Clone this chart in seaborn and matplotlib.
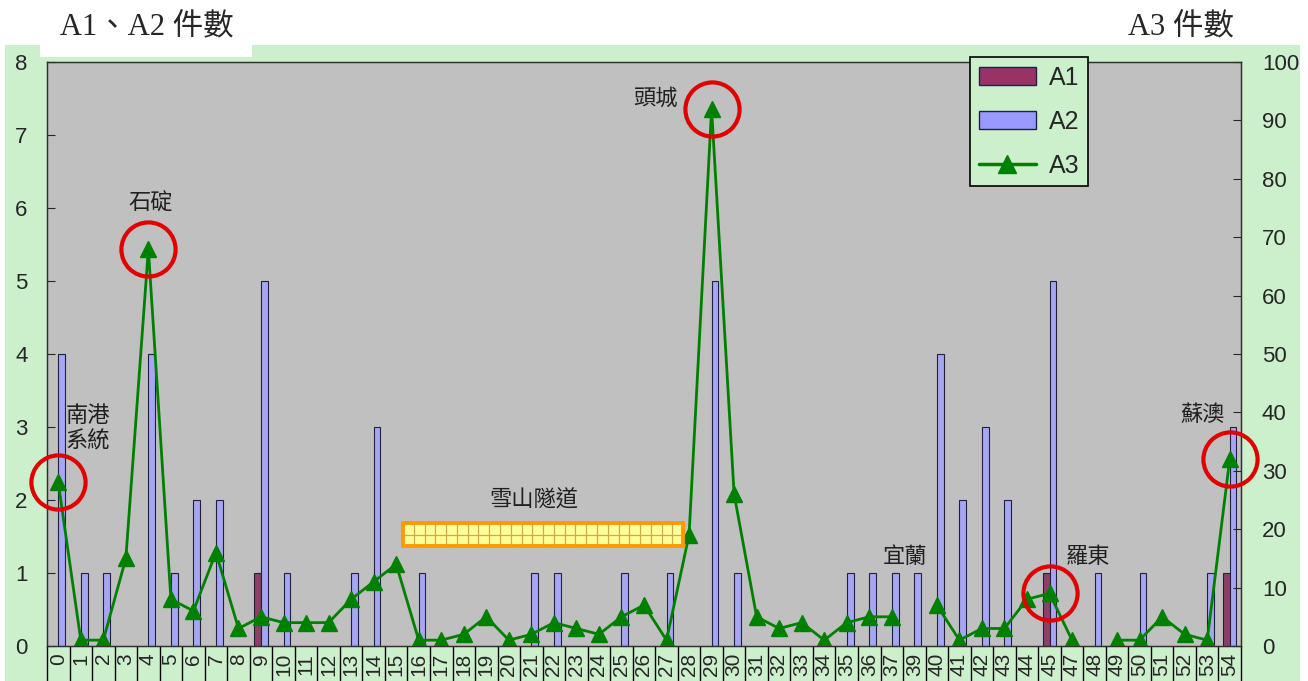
"""Accident counts along the freeway: A1/A2 bars and A3 line."""

import matplotlib.pyplot as plt
import numpy as np
import pandas as pd
import seaborn as sns
from matplotlib.lines import Line2D
from matplotlib.patches import Patch, Rectangle

# kilometre markers (38 and 46 are not listed on the chart)
km_labels = [
    "0", "1", "2", "3", "4", "5", "6", "7", "8", "9",
    "10", "11", "12", "13", "14", "15", "16", "17", "18", "19",
    "20", "21", "22", "23", "24", "25", "26", "27", "28", "29",
    "30", "31", "32", "33", "34", "35", "36", "37", "39", "40",
    "41", "42", "43", "44", "45", "47", "48", "49", "50", "51",
    "52", "53", "54",
]
a1_counts = [
    0, 0, 0, 0, 0, 0, 0, 0, 0, 1,
    0, 0, 0, 0, 0, 0, 0, 0, 0, 0,
    0, 0, 0, 0, 0, 0, 0, 0, 0, 0,
    0, 0, 0, 0, 0, 0, 0, 0, 0, 0,
    0, 0, 0, 0, 1, 0, 0, 0, 0, 0,
    0, 0, 1,
]
a2_counts = [
    4, 1, 1, 0, 4, 1, 2, 2, 0, 5,
    1, 0, 0, 1, 3, 0, 1, 0, 0, 0,
    0, 1, 1, 0, 0, 1, 0, 1, 0, 5,
    1, 0, 0, 0, 0, 1, 1, 1, 1, 4,
    2, 3, 2, 0, 5, 0, 1, 0, 1, 0,
    0, 1, 3,
]
a3_counts = [
    28, 1, 1, 15, 68, 8, 6, 16, 3, 5,
    4, 4, 4, 8, 11, 14, 1, 1, 2, 5,
    1, 2, 4, 3, 2, 5, 7, 1, 19, 92,
    26, 5, 3, 4, 1, 4, 5, 5, np.nan, 7,
    1, 3, 3, 8, 9, 1, np.nan, 1, 1, 5,
    2, 1, 32,
]
# circled places: (category index, name)
highlights = [(0, "南港\n系統"), (4, "石碇"), (29, "頭城"), (44, "羅東"), (52, "蘇澳")]

BG_GREEN = "#CCEFCC"
PLOT_GRAY = "#C0C0C0"
A1_COLOR = "#993366"
A2_COLOR = "#9999FF"
BAR_EDGE = "#202040"
LINE_GREEN = "#008000"

sns.set_style("ticks")
plt.rcParams["font.family"] = ["Liberation Sans Narrow", "Liberation Sans", "DejaVu Sans"]
CJK = ["Noto Sans CJK TC", "DejaVu Sans"]
TITLE_FONT = ["Liberation Serif", "Noto Sans CJK TC"]

W, H = 1308, 681
fig = plt.figure(figsize=(W / 100, H / 100), dpi=100)
fig.add_artist(Rectangle((0.004, 0), 0.99, 1 - 45 / H, transform=fig.transFigure,
                         facecolor=BG_GREEN, edgecolor="none", zorder=-2))
fig.add_artist(Rectangle((40 / W, 1 - 57 / H), 212 / W, 57 / H, transform=fig.transFigure,
                         facecolor="white", edgecolor="none", zorder=-1))

ax = fig.add_axes([47 / W, 35 / H, 1194 / W, 584 / H])
ax.set_facecolor(PLOT_GRAY)

n = len(km_labels)
positions = np.arange(n)
bars = pd.DataFrame({
    "pos": np.tile(positions, 2),
    "count": a1_counts + a2_counts,
    "type": ["A1"] * n + ["A2"] * n,
})
bars = bars[bars["count"] > 0]

sns.barplot(data=bars, x="pos", y="count", hue="type", hue_order=["A1", "A2"],
            palette={"A1": A1_COLOR, "A2": A2_COLOR}, native_scale=True, dodge=True,
            width=0.6, errorbar=None, edgecolor=BAR_EDGE, linewidth=0.8,
            legend=False, ax=ax)

ax.set_xlim(-0.5, n - 0.5)
ax.set_ylim(0, 8)
ax.set_yticks(range(0, 9))
ax.set_xticks(positions, km_labels)
ax.set_xticks(np.arange(-0.5, n), minor=True)
ax.set_xlabel("")
ax.set_ylabel("")
ax.tick_params(axis="y", direction="in", length=6, labelsize=16, pad=14)
ax.tick_params(axis="x", which="major", length=0, labelsize=15, labelrotation=90, pad=5)
ax.tick_params(axis="x", which="minor", direction="out", length=30, width=1, color="black")
for spine in ax.spines.values():
    spine.set_color("#303030")
    spine.set_linewidth(1)

ax2 = ax.twinx()
line = pd.DataFrame({"pos": positions, "A3": a3_counts})
line["segment"] = np.cumsum(line["A3"].isna())
line = line.dropna()
sns.lineplot(data=line, x="pos", y="A3", units="segment", estimator=None, sort=False,
             color=LINE_GREEN, linewidth=2, marker="^", markersize=12,
             markeredgecolor=LINE_GREEN, markeredgewidth=1, legend=False, ax=ax2)
ax2.set_ylim(0, 100)
ax2.set_yticks(range(0, 101, 10))
ax2.set_ylabel("")
ax2.tick_params(axis="y", direction="in", length=6, labelsize=16, pad=15)
for spine in ax2.spines.values():
    spine.set_color("#303030")

# red circles around the named places
a3 = np.array(a3_counts, dtype=float)
idx = [i for i, _ in highlights]
ax2.plot(idx, a3[idx], "o", ms=39, mfc="none", mec="#E00000", mew=3, clip_on=False, zorder=5)

place_text = {
    "南港\n系統": (1.3, 37.3),
    "石碇": (4.1, 75.9),
    "頭城": (26.5, 93.8),
    "宜蘭": (37.6, 15.4),
    "羅東": (45.7, 15.4),
    "蘇澳": (50.8, 39.7),
    "雪山隧道": (21.1, 25.0),
}
for name, (x, y) in place_text.items():
    ax2.text(x, y, name, ha="center", va="center", fontsize=16, family=CJK,
             color="#202020", linespacing=1.15)

# Hsuehshan tunnel bar
tx0, tx1, ty0, ty1 = 15.3, 27.74, 17.1, 21.05
ax2.add_patch(Rectangle((tx0, ty0), tx1 - tx0, ty1 - ty0, facecolor="#FFFF99",
                        edgecolor="none", zorder=3))
ax2.vlines(np.linspace(tx0, tx1, 27)[1:-1], ty0, ty1, color="#D0A848", lw=0.9, zorder=3)
ax2.hlines((ty0 + ty1) / 2, tx0, tx1, color="#D0A848", lw=0.9, zorder=3)
ax2.add_patch(Rectangle((tx0, ty0), tx1 - tx0, ty1 - ty0, facecolor="none",
                        edgecolor="#FF9900", lw=2.8, zorder=4))

handles = [
    Patch(facecolor=A1_COLOR, edgecolor=BAR_EDGE, label="A1"),
    Patch(facecolor=A2_COLOR, edgecolor=BAR_EDGE, label="A2"),
    Line2D([], [], color=LINE_GREEN, lw=2.5, marker="^", ms=13, label="A3"),
]
leg = ax2.legend(handles=handles, loc="upper left", bbox_to_anchor=(0.773, 1.0086),
                 frameon=True, fancybox=False, facecolor=BG_GREEN, edgecolor="black",
                 framealpha=1, fontsize=18, handlelength=2.3, handleheight=0.7,
                 labelspacing=0.8, borderpad=0.35, handletextpad=0.5, borderaxespad=0)
leg.get_frame().set_linewidth(1.2)
leg.set_zorder(6)

fig.text(60 / W, 1 - 28 / H, "A1、A2 件數", ha="left", va="center", fontsize=22,
         family=TITLE_FONT)
fig.text(1128 / W, 1 - 28 / H, "A3 件數", ha="left", va="center", fontsize=22,
         family=TITLE_FONT)

fig.savefig("out.png", dpi=100)
